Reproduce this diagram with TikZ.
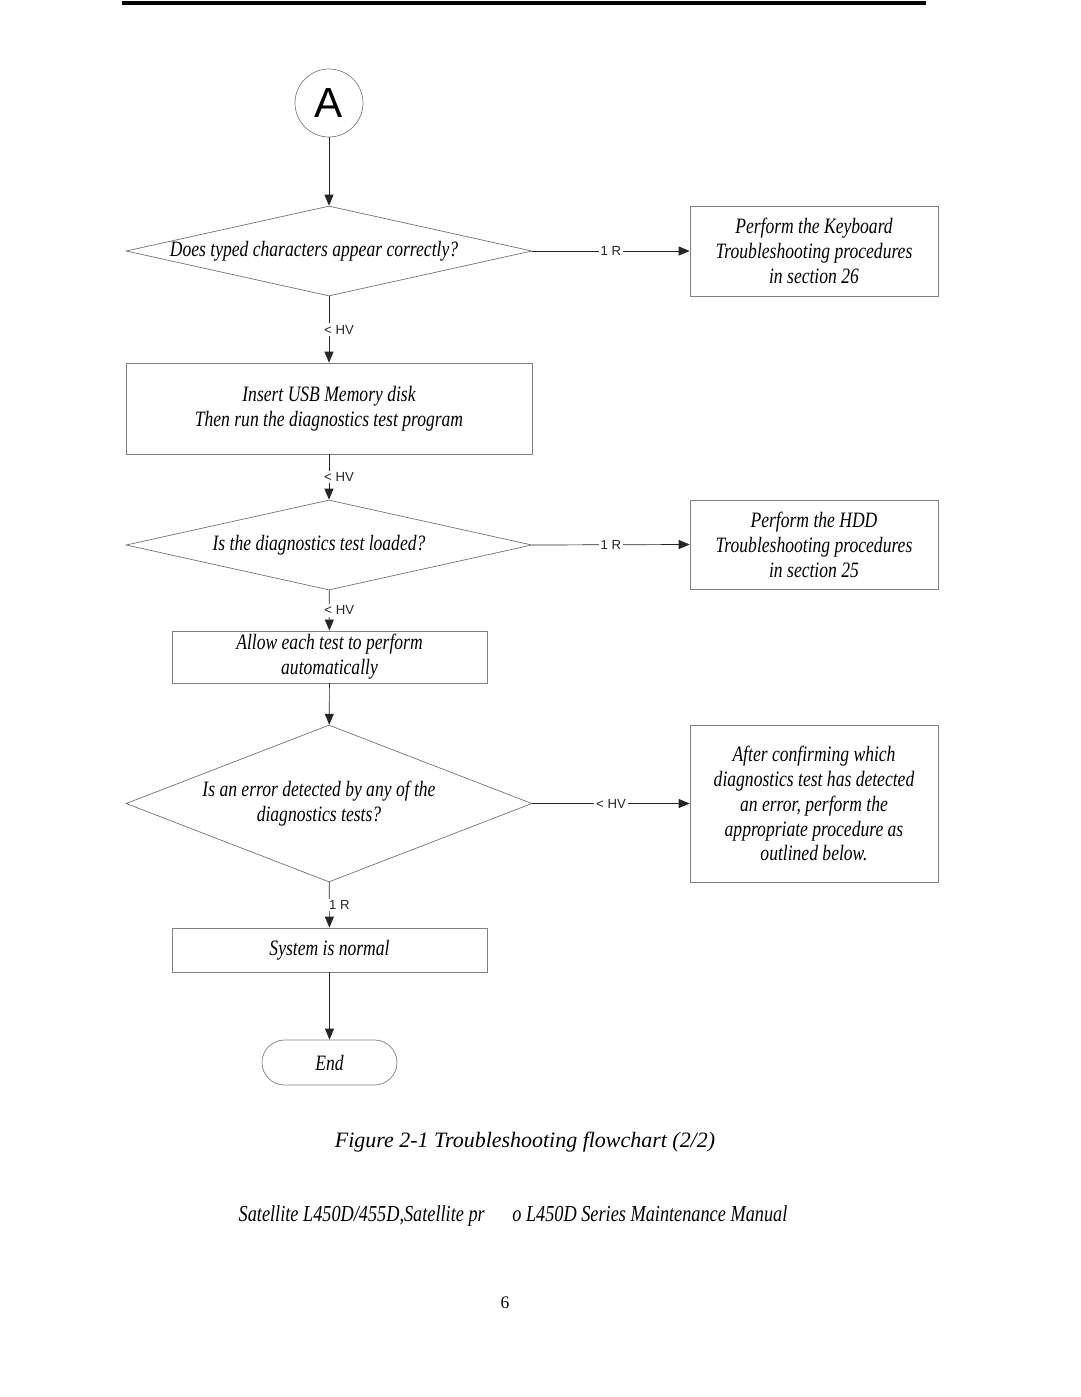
\documentclass[tikz,border=0pt]{standalone}
\usepackage{fontspec}
\setmainfont{Liberation Serif}
\setsansfont{Liberation Sans}
\newfontfamily\chartfont[FakeStretch=0.8]{Liberation Serif}
\usetikzlibrary{shapes,arrows.meta,positioning}

\begin{document}
\begin{tikzpicture}[>={Triangle[length=2.2mm,width=1.8mm]}, x=0.02cm, y=-0.02cm]
    \tikzstyle{dom}=[rectangle,draw=black!50,thin,align=center,inner sep=2pt,
      font=\chartfont\itshape\fontsize{12.5}{14.2}\selectfont]
    \tikzstyle{dec}=[diamond,draw=black!55,thin,inner sep=0pt,minimum width=8.12cm]
    \tikzstyle{dectext}=[align=center,font=\chartfont\itshape\fontsize{12.5}{14.2}\selectfont]
    \tikzstyle{lbl}=[fill=white,inner sep=1pt,font=\sffamily\fontsize{7.5}{9}\selectfont]
    \tikzstyle{flow}=[->,black!85,thin]

    \useasboundingbox (0,0) rectangle (1080,1397);
    \draw[line width=2.3pt] (122,3) -- (926,3);

    % main column
    \node[circle,draw=black!50,thin,minimum size=1.36cm,
      font=\sffamily\fontsize{24}{28}\selectfont] (start) at (329,103) {A};
    \node[dec,minimum height=1.8cm,
      label={[dectext,xshift=-0.3cm]center:Does typed characters appear correctly?}] (typed) at (329,251) {};
    \node[dom,minimum width=8.12cm,minimum height=1.82cm] (insert) at (329,408.5)
      {Insert USB Memory disk\\Then run the diagnostics test program};
    \node[dec,minimum height=1.8cm,
      label={[dectext,xshift=-0.2cm]center:Is the diagnostics test loaded?}] (loaded) at (329,545) {};
    \node[dom,minimum width=6.3cm,minimum height=0.92cm] (allow) at (329.5,657)
      {Allow each test to perform\\automatically};
    \node[dec,minimum height=3.14cm,
      label={[dectext,xshift=-0.2cm]center:Is an error detected by any of the\\diagnostics tests?}] (error) at (329,803.5) {};
    \node[dom,minimum width=6.3cm,minimum height=0.88cm] (normal) at (329.5,950)
      {System is normal};
    \node[dom,rounded corners=0.45cm,minimum width=2.7cm,minimum height=0.9cm] (end) at (329.5,1062.5)
      {End};

    % right column
    \node[dom,minimum width=4.96cm,minimum height=1.8cm] (kbd) at (814,251)
      {Perform the Keyboard\\Troubleshooting procedures\\in section 26};
    \node[dom,minimum width=4.96cm,minimum height=1.78cm] (hdd) at (814,544.5)
      {Perform the HDD\\Troubleshooting procedures\\in section 25};
    \node[dom,minimum width=4.96cm,minimum height=3.14cm] (confirm) at (814,803.5)
      {After confirming which\\diagnostics test has detected\\an error, perform the\\appropriate procedure as\\outlined below.};

    \draw[flow] (start) -- (typed);
    \draw[flow] (typed.east) -- node[lbl] {1 R} (kbd.west);
    \draw[flow] (typed) -- node[lbl,xshift=0.2cm] {< HV} (insert);
    \draw[flow] (insert) -- node[lbl,xshift=0.2cm] {< HV} (loaded);
    \draw[flow] (loaded.east) -- node[lbl] {1 R} (hdd.west);
    \draw[flow] (loaded) -- node[lbl,xshift=0.2cm] {< HV} (allow);
    \draw[flow] (allow) -- (error);
    \draw[flow] (error.east) -- node[lbl] {< HV} (confirm.west);
    \draw[flow] (error) -- node[lbl,xshift=0.2cm] {1 R} (normal);
    \draw[flow] (normal) -- (end);

    % captions
    \node[font=\itshape\fontsize{12.5}{15}\selectfont] (caption) at (525,1142)
      {Figure 2-1 Troubleshooting flowchart (2/2)};
    \node[font=\chartfont\itshape\fontsize{13}{15}\selectfont] (footer) at (513,1216)
      {Satellite L450D/455D,Satellite pr\hspace{0.55cm}o L450D Series Maintenance Manual};
    \node[font=\fontsize{10}{12}\selectfont] (page) at (505,1303) {6};
\end{tikzpicture}
\end{document}
